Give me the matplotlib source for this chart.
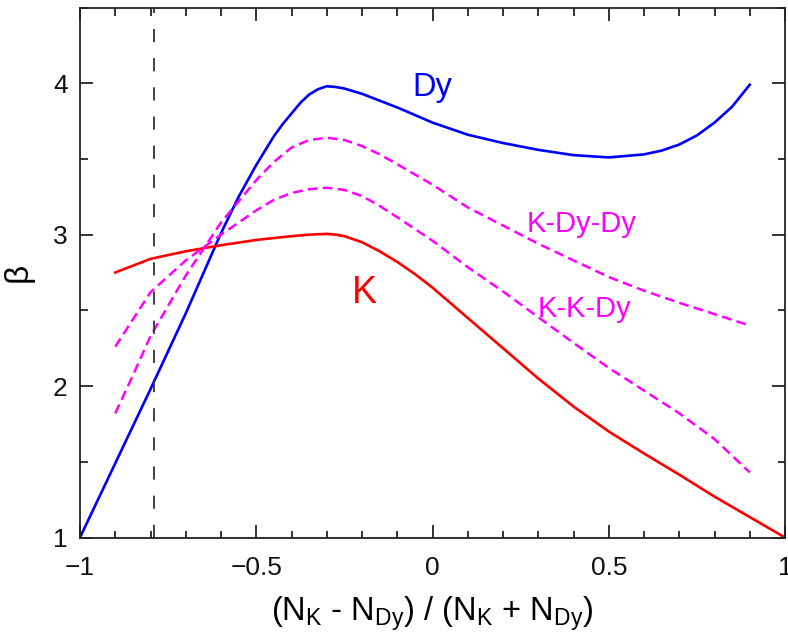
import matplotlib
matplotlib.use("Agg")
import matplotlib.pyplot as plt
from matplotlib.ticker import MultipleLocator

plt.rcParams['font.family'] = ['Liberation Sans', 'DejaVu Sans']
plt.rcParams['mathtext.fontset'] = 'custom'
plt.rcParams['mathtext.rm'] = 'Liberation Sans'
plt.rcParams['mathtext.it'] = 'Liberation Sans'
plt.rcParams['lines.scale_dashes'] = False

# Dy curve
dy_x = [-1.0, -0.9, -0.8, -0.7, -0.6, -0.55, -0.5, -0.45, -0.425, -0.4, -0.375, -0.35,
        -0.325, -0.3, -0.275, -0.25, -0.2, -0.15, -0.1, -0.05, 0.0, 0.1, 0.2, 0.3, 0.4,
        0.5, 0.6, 0.65, 0.7, 0.75, 0.8, 0.85, 0.9]
dy_y = [1.0, 1.49, 1.98, 2.48, 3.01, 3.25, 3.46, 3.65, 3.73, 3.80, 3.87, 3.925,
        3.96, 3.98, 3.975, 3.965, 3.93, 3.885, 3.84, 3.79, 3.74, 3.66, 3.605, 3.56, 3.525,
        3.51, 3.53, 3.555, 3.595, 3.655, 3.74, 3.845, 3.99]

# K curve
k_x = [-0.9, -0.8, -0.7, -0.6, -0.5, -0.4, -0.35, -0.3, -0.275, -0.25, -0.225, -0.2,
       -0.175, -0.15, -0.1, -0.05, 0.0, 0.1, 0.2, 0.3, 0.4, 0.5, 0.6, 0.7, 0.8, 0.9, 1.0]
k_y = [2.75, 2.84, 2.89, 2.93, 2.965, 2.99, 3.0, 3.005, 3.0, 2.99, 2.97, 2.95,
       2.92, 2.89, 2.82, 2.74, 2.65, 2.45, 2.25, 2.05, 1.865, 1.70, 1.555, 1.415, 1.27, 1.135, 1.0]

# K-Dy-Dy curve
kdd_x = [-0.9, -0.85, -0.8, -0.7, -0.6, -0.5, -0.45, -0.4, -0.35, -0.3, -0.25, -0.2,
         -0.15, -0.1, 0.0, 0.1, 0.2, 0.3, 0.4, 0.5, 0.6, 0.7, 0.8, 0.9]
kdd_y = [1.82, 2.07, 2.33, 2.73, 3.08, 3.36, 3.48, 3.575, 3.625, 3.64, 3.625, 3.585,
         3.53, 3.465, 3.33, 3.18, 3.06, 2.94, 2.83, 2.72, 2.63, 2.55, 2.475, 2.40]

# K-K-Dy curve
kkd_x = [-0.9, -0.8, -0.7, -0.6, -0.5, -0.45, -0.4, -0.35, -0.3, -0.25, -0.2, -0.15,
         -0.1, 0.0, 0.1, 0.2, 0.3, 0.4, 0.5, 0.6, 0.7, 0.8, 0.9]
kkd_y = [2.26, 2.62, 2.83, 3.0, 3.16, 3.23, 3.275, 3.30, 3.31, 3.295, 3.255, 3.19,
         3.115, 2.96, 2.785, 2.625, 2.455, 2.285, 2.12, 1.97, 1.82, 1.65, 1.43]

vline_x = -0.79

x_ticks = [-1, -0.5, 0, 0.5, 1]
x_ticklabels = ['\u22121', '\u22120.5', '0', '0.5', '1']
y_ticks = [1, 2, 3, 4]
y_ticklabels = ['1', '2', '3', '4']

fig = plt.figure(figsize=(7.88, 6.37), dpi=100)
ax = fig.add_axes([80/788, 1-537.5/637, 705/788, 530/637])

ax.plot(dy_x, dy_y, color='#0000ff', lw=1.9)
ax.plot(k_x, k_y, color='#ff0000', lw=1.9)
ax.plot(kdd_x, kdd_y, color='#ff00ff', lw=1.8, dashes=(7, 3.8))
ax.plot(kkd_x, kkd_y, color='#ff00ff', lw=1.8, dashes=(7, 3.8))
ax.axvline(vline_x, color='#333333', lw=1.3, dashes=(9.5, 11.5))

ax.set_xlim(-1, 1)
ax.set_ylim(1, 4.5)
ax.set_xticks(x_ticks)
ax.set_xticklabels(x_ticklabels)
ax.set_yticks(y_ticks)
ax.set_yticklabels(y_ticklabels)
ax.xaxis.set_minor_locator(MultipleLocator(0.1))
ax.yaxis.set_minor_locator(MultipleLocator(0.5))
ax.tick_params(which='both', direction='in', top=True, right=True, width=1.2,
               labelsize=19, colors='#111111')
ax.tick_params(which='major', length=9.7)
ax.tick_params(axis='x', which='major', pad=13)
ax.tick_params(axis='y', which='major', pad=9)
ax.tick_params(which='minor', length=5.4)
for s in ax.spines.values():
    s.set_linewidth(1.3)
    s.set_color('#222222')

ax.set_xlabel(r'(N$_{\mathrm{K}}$ - N$_{\mathrm{Dy}}$) / (N$_{\mathrm{K}}$ + N$_{\mathrm{Dy}}$)',
              fontsize=23.5, labelpad=11)
ax.set_ylabel('\u03b2', fontsize=24, labelpad=14)

ax.text(0.0, 3.916, 'Dy', color='#0000ff', fontsize=23.5, ha='center', va='baseline')
ax.text(-0.194, 2.55, 'K', color='#ff0000', fontsize=27, ha='center', va='baseline')
ax.text(0.424, 3.02, 'K-Dy-Dy', color='#ff00ff', fontsize=21, ha='center', va='baseline')
ax.text(0.43, 2.458, 'K-K-Dy', color='#ff00ff', fontsize=21, ha='center', va='baseline')

fig.savefig('out.png', dpi=100)
